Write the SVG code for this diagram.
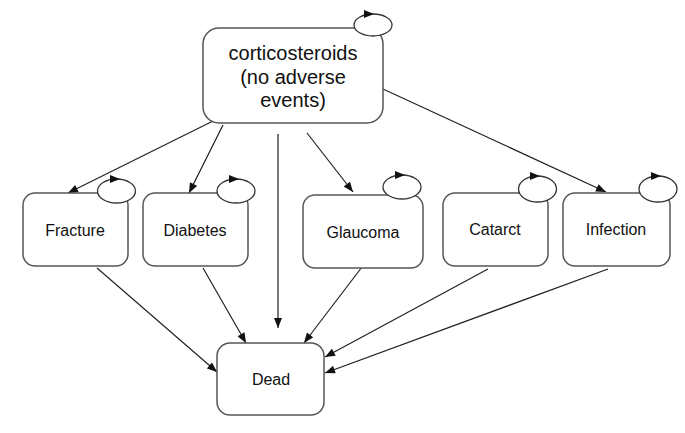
<svg xmlns="http://www.w3.org/2000/svg" width="685" height="433" viewBox="0 0 685 433">
<defs>
<marker id="arr" viewBox="0 0 10 8" refX="10" refY="4" markerWidth="11" markerHeight="8" markerUnits="userSpaceOnUse" orient="auto">
<path d="M0,0 L10,4 L0,8 z" fill="#111"/>
</marker>
<path id="lh" d="M-5,-4 L5,0 L-5,4 z" fill="#111"/>
</defs>
<style>
.box{fill:#fff;stroke:#555;stroke-width:1.5}
.loop{fill:#fff;stroke:#333;stroke-width:1.3}
.lbl{font-family:"Liberation Sans",Arial,sans-serif;font-size:16px;fill:#111;text-anchor:middle}
.big{font-size:20px}
.edge{stroke:#222;stroke-width:1.2;fill:none;marker-end:url(#arr)}
</style>
<rect width="685" height="433" fill="#fff"/>
<g id="connectors">
<line class="edge" x1="213" y1="121" x2="68" y2="193"/>
<line class="edge" x1="223" y1="125" x2="189" y2="193"/>
<line class="edge" x1="278" y1="134" x2="278" y2="328"/>
<line class="edge" x1="307" y1="133" x2="353" y2="192"/>
<line class="edge" x1="383" y1="89" x2="606" y2="192"/>
<line class="edge" x1="97" y1="268" x2="217" y2="372"/>
<line class="edge" x1="203" y1="268" x2="246" y2="343"/>
<line class="edge" x1="362" y1="267" x2="304" y2="343"/>
<line class="edge" x1="488" y1="269" x2="325" y2="357"/>
<line class="edge" x1="608" y1="269" x2="325" y2="373"/>
</g>
<g id="n_cortico">
<rect class="box" x="203" y="28" width="180" height="95" rx="16"/>
<ellipse class="loop" cx="373" cy="25" rx="19" ry="11"/>
<use href="#lh" x="369" y="14"/>
<text class="lbl big" x="293" y="60">corticosteroids</text>
<text class="lbl big" x="293" y="84">(no adverse</text>
<text class="lbl big" x="293" y="107">events)</text>
</g>
<g id="n_fracture">
<rect class="box" x="23" y="193" width="105" height="73" rx="12"/>
<ellipse class="loop" cx="116.5" cy="191" rx="19" ry="12"/>
<use href="#lh" x="115" y="179"/>
<text class="lbl" x="75" y="236">Fracture</text>
</g>
<g id="n_diabetes">
<rect class="box" x="143" y="193" width="105" height="73" rx="12"/>
<ellipse class="loop" cx="236" cy="191" rx="19" ry="12"/>
<use href="#lh" x="234" y="179"/>
<text class="lbl" x="195" y="236">Diabetes</text>
</g>
<g id="n_glaucoma">
<rect class="box" x="303" y="195" width="120" height="73" rx="12"/>
<ellipse class="loop" cx="402" cy="187" rx="19" ry="12"/>
<use href="#lh" x="400" y="175"/>
<text class="lbl" x="363" y="238">Glaucoma</text>
</g>
<g id="n_catarct">
<rect class="box" x="443" y="193" width="105" height="73" rx="12"/>
<ellipse class="loop" cx="537.5" cy="189" rx="19" ry="13"/>
<use href="#lh" x="535" y="176"/>
<text class="lbl" x="495" y="235">Catarct</text>
</g>
<g id="n_infection">
<rect class="box" x="563" y="193" width="107" height="73" rx="12"/>
<ellipse class="loop" cx="658" cy="189" rx="19" ry="13"/>
<use href="#lh" x="656" y="176"/>
<text class="lbl" x="616" y="235">Infection</text>
</g>
<g id="n_dead">
<rect class="box" x="217" y="343" width="107" height="72" rx="13"/>
<text class="lbl" x="271" y="385">Dead</text>
</g>
</svg>
